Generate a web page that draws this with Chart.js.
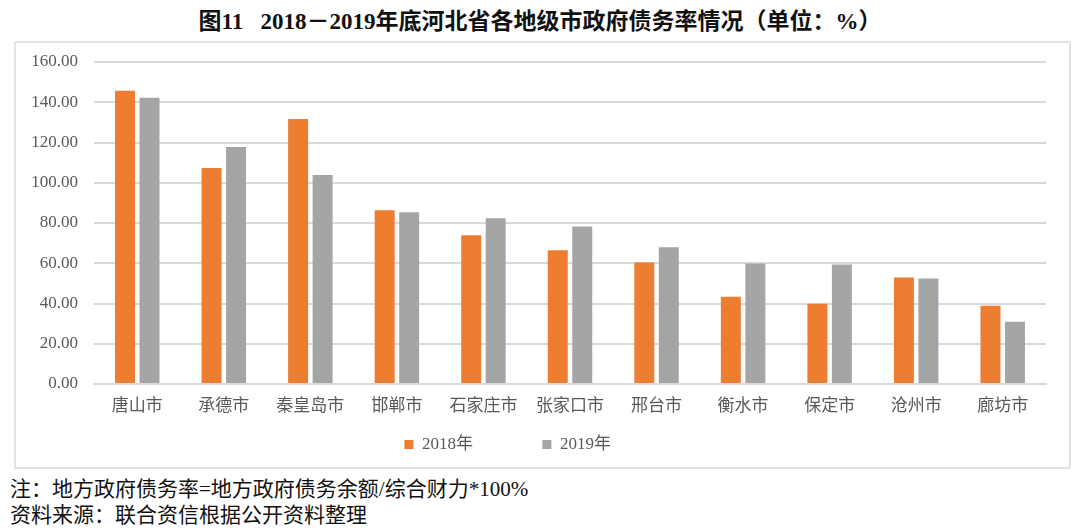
<!DOCTYPE html>
<html>
<head>
<meta charset="utf-8">
<script src="https://cdn.jsdelivr.net/npm/chart.js@4.4.1/dist/chart.umd.min.js"></script>
<style>
  html, body { margin: 0; padding: 0; background: #fff; width: 1080px; height: 532px; overflow: hidden; }
  #title { position: absolute; left: 0; top: 2px; width: 1080px; text-align: center; font-family: "Liberation Serif", "Noto Sans CJK SC", serif; font-weight: bold; font-size: 23px; color: #111; white-space: nowrap; }
  #box { position: absolute; left: 14px; top: 41px; width: 1053px; height: 424px; border: 2px solid #e3e3e3; }
  #note { position: absolute; left: 10px; top: 476px; font-family: "Liberation Serif", "Noto Sans CJK SC", serif; font-size: 21px; line-height: 26px; color: #111; white-space: nowrap; }
</style>
</head>
<body>
<div id="title">图11&nbsp;&nbsp;&nbsp;2018－2019年底河北省各地级市政府债务率情况（单位：%）</div>
<div id="box"><canvas id="c" width="1053" height="424"></canvas></div>
<div id="note">注：地方政府债务率=地方政府债务余额/综合财力*100%<br>资料来源：联合资信根据公开资料整理</div>
<script>
const categories = ["唐山市","承德市","秦皇岛市","邯郸市","石家庄市","张家口市","邢台市","衡水市","保定市","沧州市","廊坊市"];
const values2018 = [145.7, 107.3, 131.7, 86.3, 73.9, 66.4, 60.4, 43.4, 39.9, 52.9, 38.9];
const values2019 = [142.2, 117.8, 103.8, 85.3, 82.3, 78.3, 67.9, 59.9, 59.4, 52.4, 30.9];
const seriesNames = ["2018年", "2019年"];
const yTicks = [0, 20, 40, 60, 80, 100, 120, 140, 160];

const serif = '"Liberation Serif", "Noto Sans CJK SC", serif';
new Chart(document.getElementById('c'), {
  type: 'bar',
  data: {
    labels: categories,
    datasets: [
      { label: seriesNames[0], data: values2018, backgroundColor: '#ED7D31', categoryPercentage: 0.566, barPercentage: 0.816 },
      { label: seriesNames[1], data: values2019, backgroundColor: '#A5A5A5', categoryPercentage: 0.566, barPercentage: 0.816 }
    ]
  },
  options: {
    responsive: false,
    animation: false,
    layout: { padding: { left: 0, right: 23, top: 19, bottom: 4 } },
    plugins: {
      tooltip: { enabled: false },
      legend: {
        position: 'bottom',
        labels: {
          boxWidth: 9, boxHeight: 9, padding: 10, color: '#595959', font: { family: serif, size: 17 },
          generateLabels: chart => {
            const items = Chart.defaults.plugins.legend.labels.generateLabels(chart);
            items[0].text = items[0].text + '\u00a0'.repeat(14);
            items[1].text = items[1].text + '\u00a0'.repeat(11);
            return items;
          }
        }
      }
    },
    scales: {
      x: {
        grid: { display: false },
        border: { color: '#d9d9d9', width: 2 },
        ticks: { color: '#595959', font: { family: serif, size: 17 }, padding: 4, maxRotation: 0, autoSkip: false },
        afterFit: s => { s.height = 42; }
      },
      y: {
        min: 0, max: 160,
        afterBuildTicks: s => { s.ticks = yTicks.map(v => ({ value: v })); },
        grid: { color: '#d9d9d9', lineWidth: 2, drawTicks: false },
        border: { display: false },
        ticks: { color: '#595959', font: { family: serif, size: 17 }, padding: 16, callback: v => Number(v).toFixed(2) },
        afterFit: s => { s.width = 78; s.paddingTop = 0; s.paddingBottom = 0; }
      }
    }
  }
});
</script>
</body>
</html>
